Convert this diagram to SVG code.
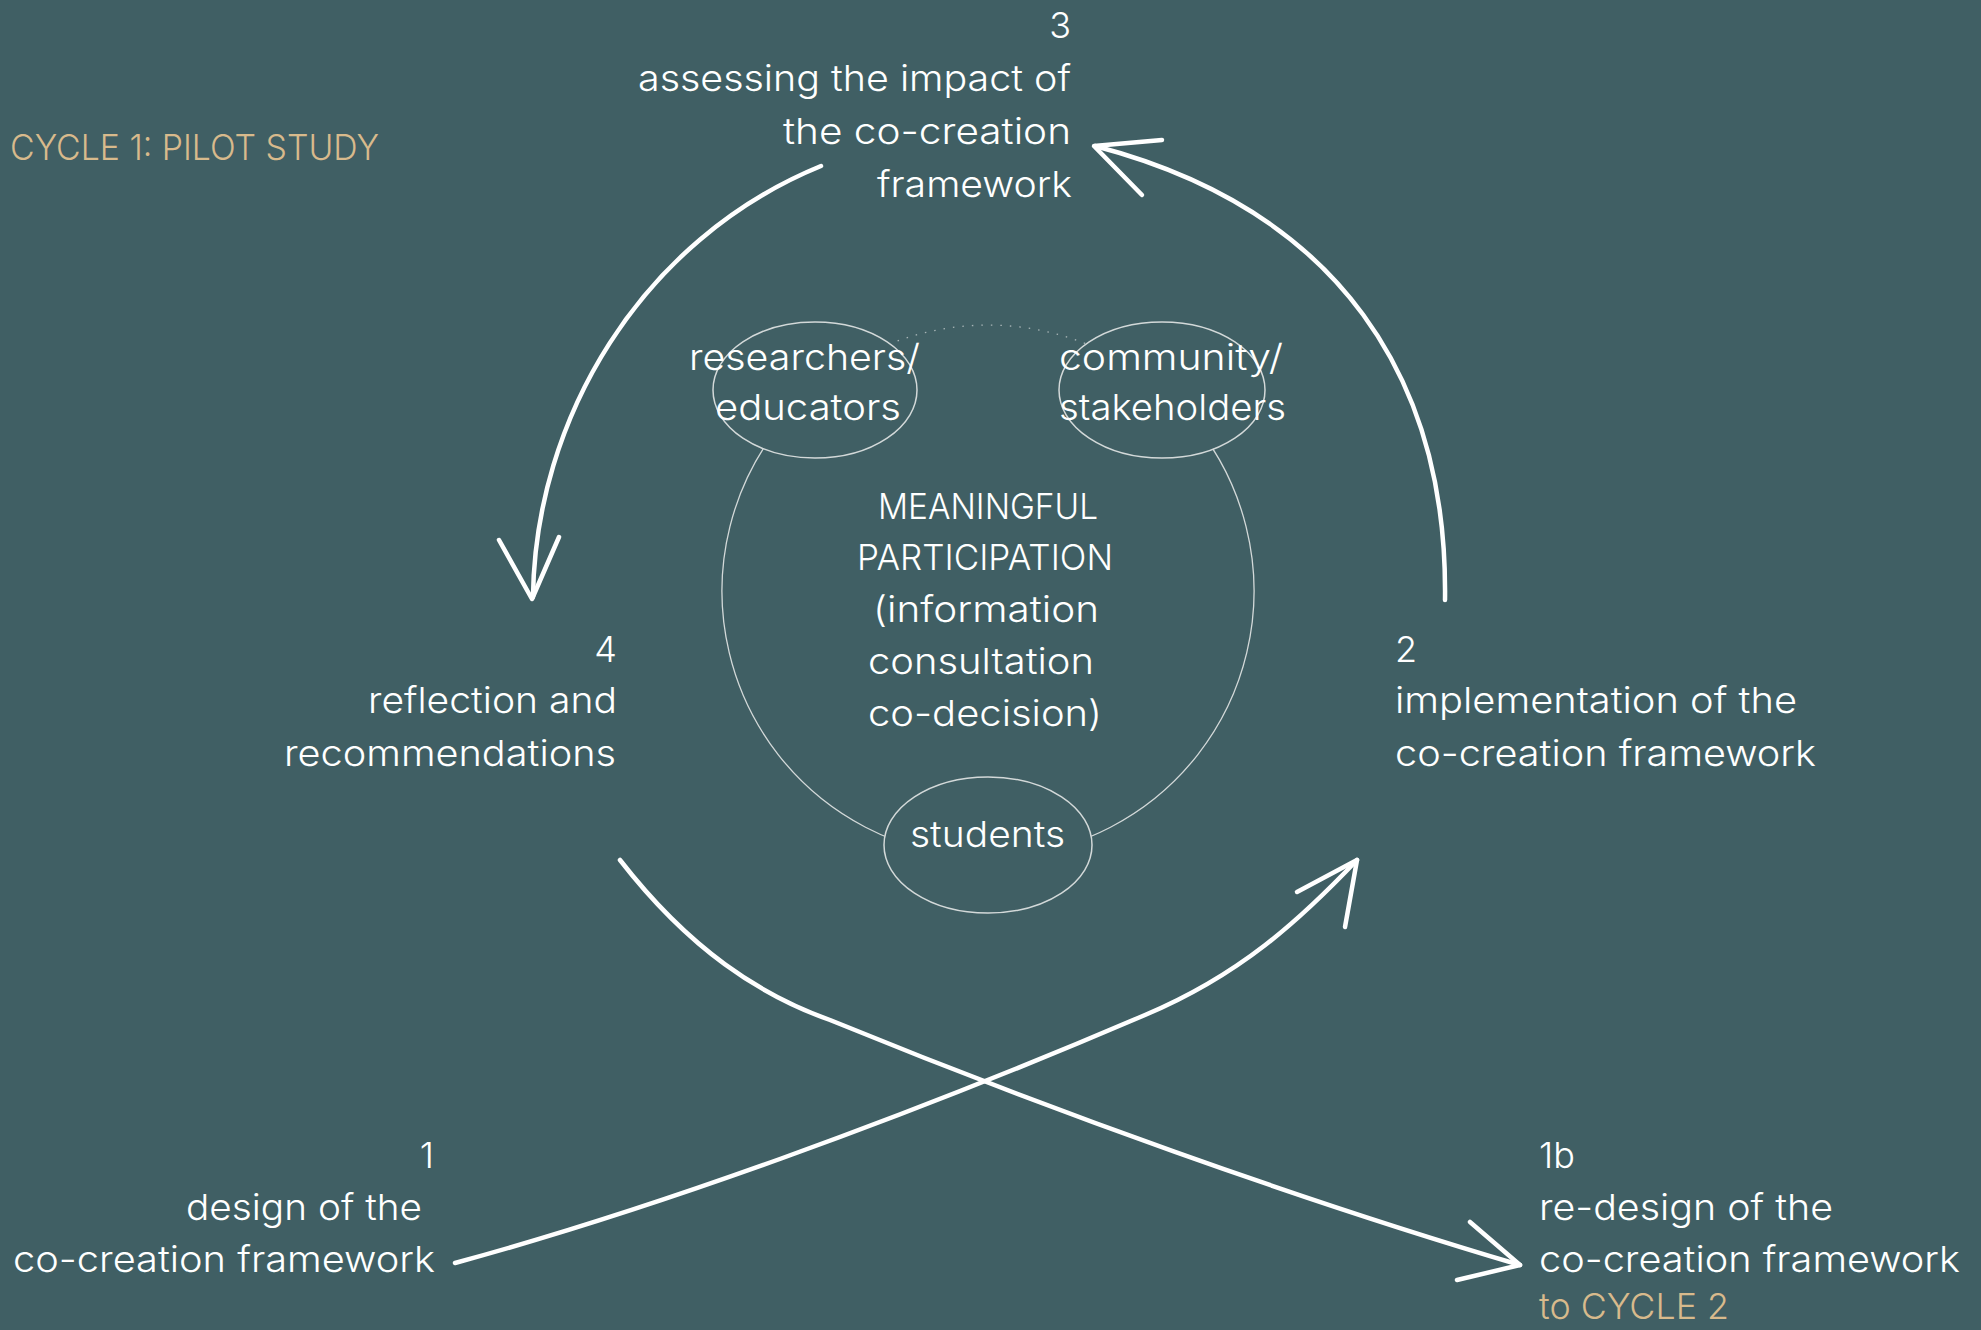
<svg xmlns="http://www.w3.org/2000/svg" width="1981" height="1330" viewBox="0 0 1981 1330">
  <style>
    .t { font-family: Inter, "Open Sans", "Liberation Sans", sans-serif; font-weight: 300; font-size: 36px; fill: #ffffff; }
    .gold { fill: #d8ba8c; }
    .end { text-anchor: end; }
    .arrow { fill: none; stroke: #ffffff; stroke-width: 4.5; stroke-linecap: round; stroke-linejoin: round; }
    .thin { fill: #405f64; stroke: #d3d9d9; stroke-width: 1.5; }
  </style>
  <rect width="1981" height="1330" fill="#405f64"/>

  <g id="node-title">
    <text class="t gold" x="10" y="160" textLength="369" lengthAdjust="spacingAndGlyphs">CYCLE 1: PILOT STUDY</text>
  </g>

  <g id="node-center">
    <path d="M 880 348 A 266 266 0 1 0 1096 348" fill="none" stroke="#d3d9d9" stroke-width="1.3"/>
    <path d="M 880 348 A 266 266 0 0 1 1096 348" fill="none" stroke="#d3d9d9" stroke-width="1.3" stroke-dasharray="1.5 8" opacity="0.7"/>
    <text class="t" x="878" y="519" textLength="220" lengthAdjust="spacingAndGlyphs">MEANINGFUL</text>
    <text class="t" x="857" y="570" textLength="256" lengthAdjust="spacingAndGlyphs">PARTICIPATION</text>
    <text class="t" x="873" y="622" textLength="226" lengthAdjust="spacingAndGlyphs">(information</text>
    <text class="t" x="868" y="674" textLength="226" lengthAdjust="spacingAndGlyphs">consultation</text>
    <text class="t" x="868" y="726" textLength="234" lengthAdjust="spacingAndGlyphs">co-decision)</text>
  </g>

  <g id="node-researchers">
    <ellipse class="thin" cx="815" cy="390" rx="102" ry="68"/>
    <text class="t" x="689" y="370" textLength="231" lengthAdjust="spacingAndGlyphs">researchers/</text>
    <text class="t" x="715" y="420" textLength="186" lengthAdjust="spacingAndGlyphs">educators</text>
  </g>

  <g id="node-community">
    <ellipse class="thin" cx="1162" cy="390" rx="103" ry="68"/>
    <text class="t" x="1059" y="370" textLength="224" lengthAdjust="spacingAndGlyphs">community/</text>
    <text class="t" x="1059" y="420" textLength="227" lengthAdjust="spacingAndGlyphs">stakeholders</text>
  </g>

  <g id="node-students">
    <ellipse class="thin" cx="988" cy="845" rx="104" ry="68"/>
    <text class="t" x="910" y="847" textLength="155" lengthAdjust="spacingAndGlyphs">students</text>
  </g>

  <g id="node-3">
    <text class="t end" x="1071" y="38">3</text>
    <text class="t" x="638" y="91" textLength="433" lengthAdjust="spacingAndGlyphs">assessing the impact of</text>
    <text class="t" x="783" y="144" textLength="288" lengthAdjust="spacingAndGlyphs">the co-creation</text>
    <text class="t" x="877" y="197" textLength="195" lengthAdjust="spacingAndGlyphs">framework</text>
  </g>

  <g id="node-4">
    <text class="t end" x="617" y="662">4</text>
    <text class="t" x="368" y="713" textLength="249" lengthAdjust="spacingAndGlyphs">reflection and</text>
    <text class="t" x="284" y="766" textLength="332" lengthAdjust="spacingAndGlyphs">recommendations</text>
  </g>

  <g id="node-2">
    <text class="t" x="1395" y="662">2</text>
    <text class="t" x="1395" y="713" textLength="402" lengthAdjust="spacingAndGlyphs">implementation of the</text>
    <text class="t" x="1395" y="766" textLength="421" lengthAdjust="spacingAndGlyphs">co-creation framework</text>
  </g>

  <g id="node-1">
    <text class="t end" x="434" y="1168">1</text>
    <text class="t" x="186" y="1220" textLength="236" lengthAdjust="spacingAndGlyphs">design of the</text>
    <text class="t" x="13" y="1272" textLength="422" lengthAdjust="spacingAndGlyphs">co-creation framework</text>
  </g>

  <g id="node-1b">
    <text class="t" x="1539" y="1168">1b</text>
    <text class="t" x="1539" y="1220" textLength="294" lengthAdjust="spacingAndGlyphs">re-design of the</text>
    <text class="t" x="1539" y="1272" textLength="421" lengthAdjust="spacingAndGlyphs">co-creation framework</text>
    <text class="t gold" x="1539" y="1319" textLength="190" lengthAdjust="spacingAndGlyphs">to CYCLE 2</text>
  </g>

  <g id="connectors">
    <path class="arrow" d="M 821 166 C 640 240, 535 420, 533 597"/>
    <path class="arrow" d="M 499 540 L 532 599 L 559 537"/>
    <path class="arrow" d="M 1445 600 C 1448 380, 1340 210, 1095 146"/>
    <path class="arrow" d="M 1162 140 L 1094 146 L 1142 195"/>
    <path class="arrow" d="M 455 1263 C 650 1210, 900 1120, 1145 1015 C 1240 975, 1300 920, 1357 860"/>
    <path class="arrow" d="M 1297 892 L 1357 860 L 1345 927"/>
    <path class="arrow" d="M 620 860 C 690 950, 760 995, 830 1020 C 1050 1110, 1300 1200, 1520 1265"/>
    <path class="arrow" d="M 1470 1222 L 1520 1265 L 1457 1280"/>
  </g>
</svg>
